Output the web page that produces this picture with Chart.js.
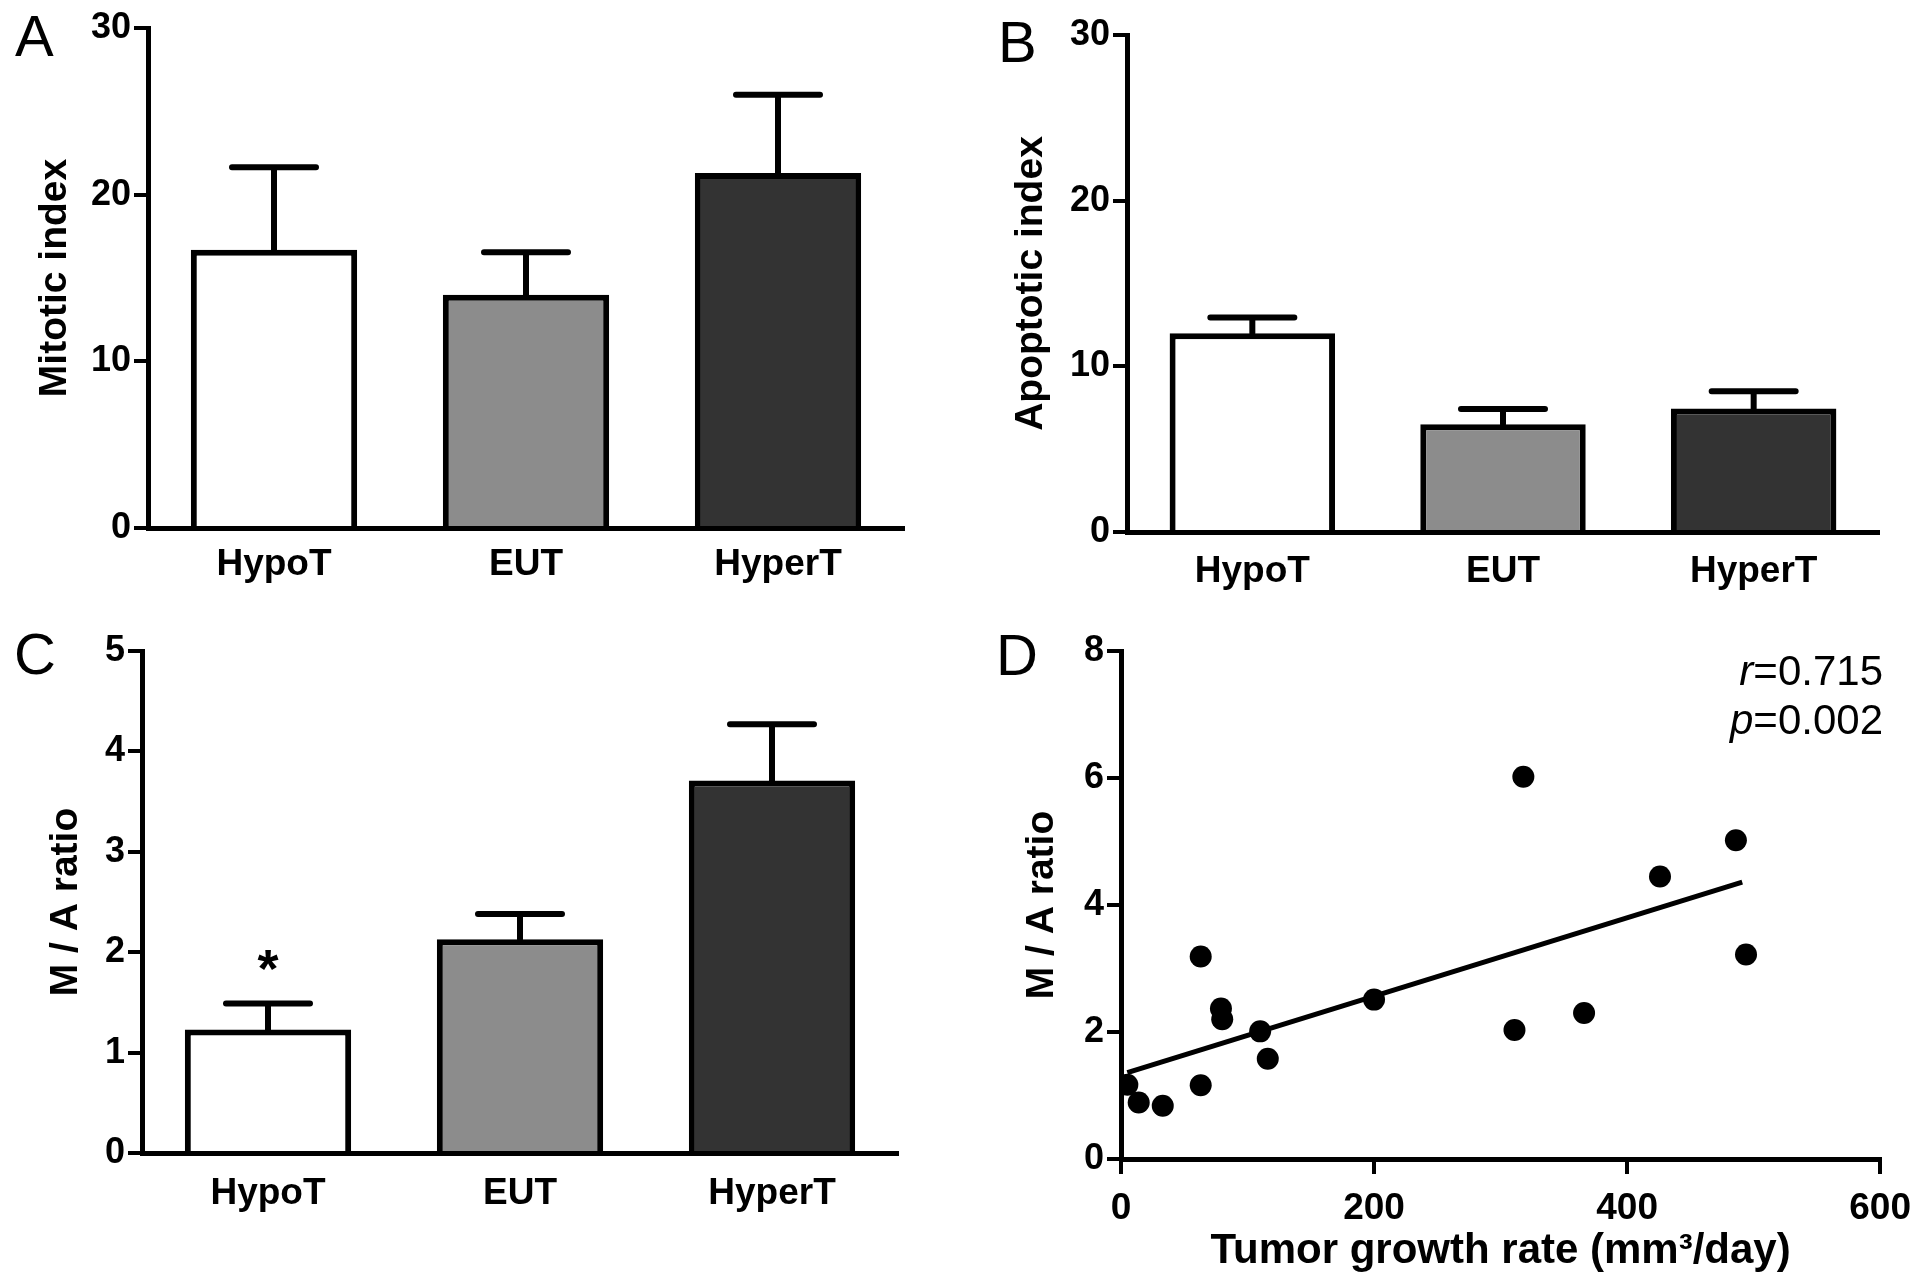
<!DOCTYPE html>
<html>
<head>
<meta charset="utf-8">
<script src="https://cdn.jsdelivr.net/npm/chart.js@4.4.1/dist/chart.umd.min.js"></script>
<style>
  body { margin: 0; background: #fff; }
  #page { position: relative; width: 1924px; height: 1285px; overflow: hidden; background: #fff; }
  canvas { position: absolute; }
  .letter { position: absolute; font-family: 'Liberation Sans', Arial, sans-serif; font-size: 58px; line-height: 58px; color: #000; }
  #stats { position: absolute; right: 41px; top: 646px; text-align: right;
           font-family: 'Liberation Sans', Arial, sans-serif; font-size: 42px; line-height: 49px; color: #000; }
</style>
</head>
<body>
<div id="page">
  <canvas id="chartA" width="962" height="620" style="left:0;top:0;width:962px;height:620px"></canvas>
  <canvas id="chartB" width="962" height="620" style="left:962px;top:0;width:962px;height:620px"></canvas>
  <canvas id="chartC" width="962" height="665" style="left:0;top:620px;width:962px;height:665px"></canvas>
  <canvas id="chartD" width="962" height="665" style="left:962px;top:620px;width:962px;height:665px"></canvas>
  <div class="letter" style="left:15px;top:7px">A</div>
  <div class="letter" style="left:998px;top:13px">B</div>
  <div class="letter" style="left:14px;top:625px">C</div>
  <div class="letter" style="left:996px;top:626px">D</div>
  <div id="stats"><i>r</i>=0.715<br><i>p</i>=0.002</div>
</div>
<script>
// groups
const groups = ['HypoT', 'EUT', 'HyperT'];
const barColors = ['#ffffff', '#8c8c8c', '#333333'];

// A - mitotic index (mean, sem)
const mitoticMean = [16.7, 14.0, 21.3];
const mitoticErr = [4.95, 2.55, 4.7];

// B - apoptotic index
const apoptoticMean = [12.0, 6.5, 7.45];
const apoptoticErr = [0.95, 0.93, 1.05];

// C - M/A ratio
const ratioMean = [1.23, 2.13, 3.71];
const ratioErr = [0.26, 0.25, 0.56];
const ratioMarks = ['*', '', ''];
const ratioMarkY = [1.97, 0, 0];

// D - scatter, growth rate vs M/A ratio
const growthRate = [5, 14, 33, 63, 63, 79, 80, 110, 116, 200, 311, 318, 366, 426, 486, 494];
const maRatio = [1.17, 0.89, 0.84, 1.16, 3.19, 2.37, 2.2, 2.01, 1.58, 2.51, 2.03, 6.02, 2.30, 4.45, 5.02, 3.22];
const fitX = [5, 491];
const fitY = [1.36, 4.36];

const sans = "'Liberation Sans', Arial, sans-serif";

Chart.defaults.animation = false;
Chart.defaults.color = '#000';

// draws the sem bars (and the significance mark) on top of the bars
const errorBars = {
  id: 'errorBars',
  afterDatasetsDraw(chart, args, opts) {
    if (!opts.errors) return;
    const ctx = chart.ctx;
    const y = chart.scales.y;
    const meta = chart.getDatasetMeta(0);
    const vals = chart.data.datasets[0].data;
    ctx.save();
    ctx.strokeStyle = '#000';
    ctx.lineWidth = 6;
    ctx.lineCap = 'round';
    meta.data.forEach((bar, i) => {
      const base = y.getPixelForValue(vals[i]);
      const top = y.getPixelForValue(vals[i] + opts.errors[i]);
      ctx.beginPath();
      ctx.moveTo(bar.x, base);
      ctx.lineTo(bar.x, top);
      ctx.moveTo(bar.x - 42, top);
      ctx.lineTo(bar.x + 42, top);
      ctx.stroke();
      if (opts.marks && opts.marks[i]) {
        ctx.fillStyle = '#000';
        ctx.font = 'bold 54px ' + sans;
        ctx.textAlign = 'center';
        ctx.textBaseline = 'alphabetic';
        ctx.fillText(opts.marks[i], bar.x, y.getPixelForValue(opts.markY[i]) + 32);
      }
    });
    ctx.restore();
  }
};

function yAxis(max, step, title, width, titlePad) {
  return {
    min: 0, max: max,
    ticks: { stepSize: step, padding: 3, font: { family: sans, size: 36, weight: 'bold' } },
    grid: { drawOnChartArea: false, drawTicks: true, tickLength: 14, color: '#000', lineWidth: 4, tickWidth: 4 },
    border: { display: true, color: '#000', width: 5 },
    title: { display: true, text: title, font: { family: sans, size: 39, weight: 'bold' }, padding: { top: titlePad, bottom: 0 } },
    afterFit(s) { s.width = width; }
  };
}

function barChart(id, means, errs, yMax, step, title, box, marks, markY) {
  new Chart(document.getElementById(id), {
    type: 'bar',
    data: {
      labels: groups,
      datasets: [{
        data: means,
        backgroundColor: barColors,
        borderColor: '#000',
        borderWidth: 6,
        barPercentage: 0.66,
        categoryPercentage: 1.0
      }]
    },
    options: {
      responsive: false,
      layout: { padding: { left: 0, top: box.top, right: box.right, bottom: 0 } },
      plugins: {
        legend: { display: false },
        tooltip: { enabled: false },
        errorBars: { errors: errs, marks: marks, markY: markY }
      },
      scales: {
        x: {
          type: 'category',
          grid: { drawOnChartArea: false, drawTicks: false },
          border: { display: true, color: '#000', width: 5 },
          ticks: { padding: box.labelPad, maxRotation: 0, font: { family: sans, size: 37, weight: 'bold' } },
          afterFit(s) { s.height = box.xh; }
        },
        y: yAxis(yMax, step, title, box.yw, box.titlePad)
      }
    },
    plugins: [errorBars]
  });
}

barChart('chartA', mitoticMean, mitoticErr, 30, 10, 'Mitotic index',
  { top: 28, right: 58, xh: 92, yw: 148, titlePad: 32, labelPad: 15 });
barChart('chartB', apoptoticMean, apoptoticErr, 30, 10, 'Apoptotic index',
  { top: 35, right: 45, xh: 88, yw: 165, titlePad: 46, labelPad: 18 });
barChart('chartC', ratioMean, ratioErr, 5, 1, 'M / A ratio',
  { top: 31, right: 64, xh: 132, yw: 142, titlePad: 43, labelPad: 19 }, ratioMarks, ratioMarkY);

// D scatter with regression line
const points = growthRate.map((x, i) => ({ x: x, y: maRatio[i] }));
const fitLine = fitX.map((x, i) => ({ x: x, y: fitY[i] }));

new Chart(document.getElementById('chartD'), {
  type: 'scatter',
  data: {
    datasets: [
      { data: points, pointRadius: 11, pointBackgroundColor: '#000', pointBorderWidth: 0, order: 0 },
      { type: 'line', data: fitLine, borderColor: '#000', borderWidth: 5, pointRadius: 0, fill: false, order: 1 }
    ]
  },
  options: {
    responsive: false,
    layout: { padding: { left: 0, top: 31, right: 41, bottom: 0 } },
    plugins: { legend: { display: false }, tooltip: { enabled: false } },
    scales: {
      x: {
        type: 'linear', min: 0, max: 600,
        ticks: { stepSize: 200, padding: 13, maxRotation: 0, font: { family: sans, size: 37, weight: 'bold' } },
        grid: { drawOnChartArea: false, drawTicks: true, tickLength: 15, color: '#000', lineWidth: 4, tickWidth: 4 },
        border: { display: true, color: '#000', width: 5 },
        title: { display: true, text: 'Tumor growth rate (mm³/day)', font: { family: sans, size: 42, weight: 'bold' }, padding: { top: 0, bottom: 8 } },
        afterFit(s) { s.height = 126; }
      },
      y: yAxis(8, 2, 'M / A ratio', 159, 57)
    }
  }
});
</script>
</body>
</html>
